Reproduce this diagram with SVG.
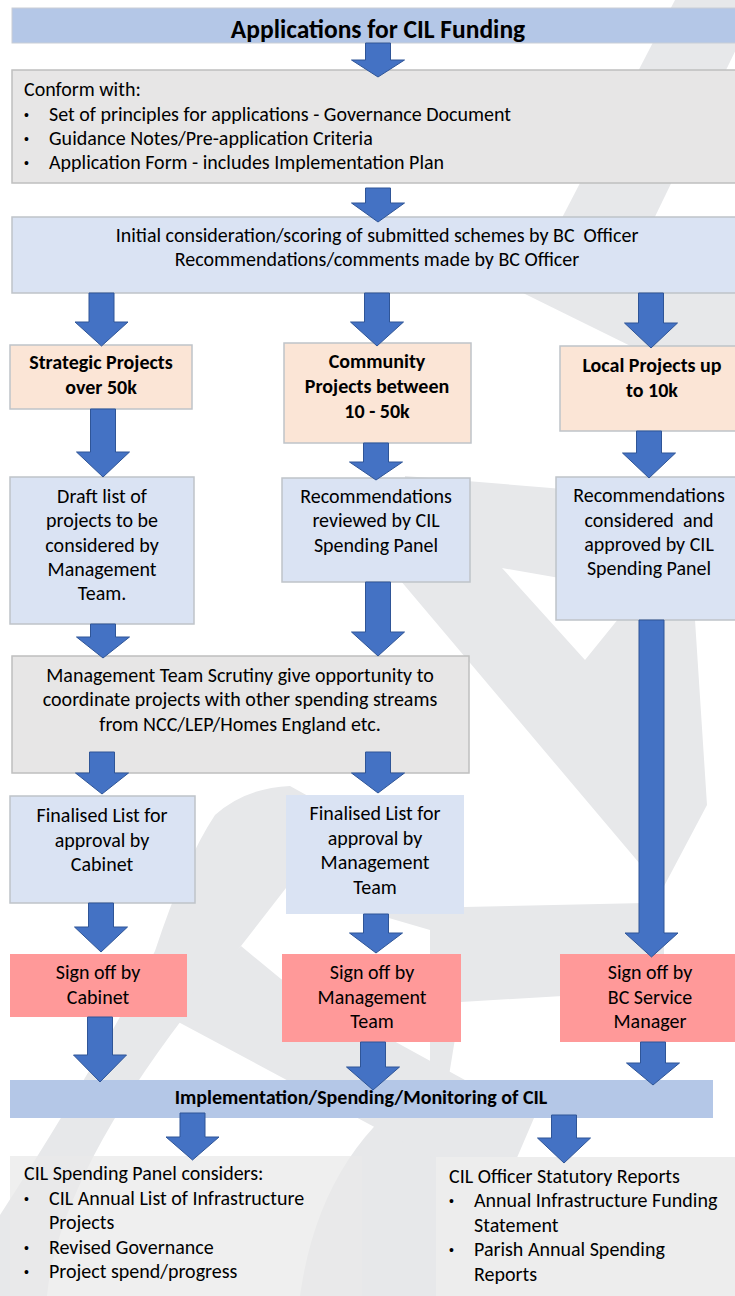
<svg xmlns="http://www.w3.org/2000/svg" width="735" height="1296" viewBox="0 0 735 1296">
<style>
.wm{fill:#e7e8ea}
.t{font-family:Carlito,Lato,'Liberation Sans',sans-serif;font-size:20px;fill:#000}
.c{text-anchor:middle}
.b{font-weight:bold}
.bu{font-family:'Liberation Sans',sans-serif;font-size:14px;fill:#000}
.blue{fill:#dae3f3;stroke:#bfc3c9;stroke-width:1.5}
.gray{fill:#e7e6e6;stroke:#bfbfbf;stroke-width:1.5}
.peach{fill:#fbe5d6;stroke:#bfc3c9;stroke-width:1.5}
.pink{fill:#ff9999}
.bar{fill:#b4c7e7}
.light{fill:#e9e9e9;fill-opacity:0.75}
.arr{fill:#4472c4;stroke:#2f5597;stroke-width:1}
</style>
<rect width="735" height="1296" fill="#ffffff"/>
<g id="watermark">
<path class="wm" d="M675,0 L760,0 L618,293 L523,293 Z"/>
<path class="wm" d="M523,293 L600,240 L740,240 L740,400 Z"/>
<path class="wm" fill-rule="evenodd" d="M405,476 L600,492 L700,510 L695,620 L707,805 L662,890 L400,580 Z M502,568 L640,592 L585,660 Z"/>
<path class="wm" fill-rule="evenodd" d="M-40,1296 L0,1215 Q100,1060 155,951 Q185,860 215,815 Q245,788 290,786 L460,880 L464,907 L645,903 L664,890 L664,990 L461,1002 L445,1100 Q440,1200 445,1296 Z M241,946 L286,888 L430,930 L430,1080 Q320,1150 300,1296 L47,1296 Q60,1160 241,946 Z"/>
<path class="wm" d="M241,946 L281,979 L534,1118 L516,1160 L436,1160 L169,1017 Z"/>
</g>
<g id="title"><rect x="12" y="8" width="730" height="35" class="bar" stroke="#c9ced6" stroke-width="1"/><text x="378" y="38" class="t c b" style="font-size:25.5px">Applications for CIL Funding</text></g>
<g id="conform"><rect x="12" y="70" width="730" height="113" class="gray"/>
<text x="24" y="96" class="t">Conform with:</text>
<text x="24" y="120" class="bu">•</text><text x="49" y="121" class="t">Set of principles for applications - Governance Document</text>
<text x="24" y="144" class="bu">•</text><text x="49" y="145" class="t">Guidance Notes/Pre-application Criteria</text>
<text x="24" y="168" class="bu">•</text><text x="49" y="169" class="t">Application Form - includes Implementation Plan</text></g>
<g id="initial"><rect x="12" y="217" width="730" height="76" class="blue"/>
<text x="377" y="242" class="t c" xml:space="preserve">Initial consideration/scoring of submitted schemes by BC  Officer</text>
<text x="377" y="266" class="t c">Recommendations/comments made by BC Officer</text></g>
<g id="strategic"><rect x="10" y="345" width="182" height="64" class="peach"/>
<text x="101" y="369" class="t c b">Strategic Projects</text><text x="101" y="394" class="t c b">over 50k</text></g>
<g id="community"><rect x="284" y="343" width="187" height="100" class="peach"/>
<text x="377" y="368" class="t c b">Community</text><text x="377" y="393" class="t c b">Projects between</text><text x="377" y="418" class="t c b">10 - 50k</text></g>
<g id="local"><rect x="560" y="346" width="185" height="85" class="peach"/>
<text x="652" y="372" class="t c b">Local Projects up</text><text x="652" y="397" class="t c b">to 10k</text></g>
<g id="draft"><rect x="10" y="477" width="184" height="147" class="blue"/>
<text x="102" y="503" class="t c">Draft list of</text><text x="102" y="527" class="t c">projects to be</text><text x="102" y="552" class="t c">considered by</text><text x="102" y="576" class="t c">Management</text><text x="102" y="600" class="t c">Team.</text></g>
<g id="reviewed"><rect x="282" y="478" width="188" height="104" class="blue"/>
<text x="376" y="503" class="t c">Recommendations</text><text x="376" y="527" class="t c">reviewed by CIL</text><text x="376" y="552" class="t c">Spending Panel</text></g>
<g id="approved"><rect x="556" y="477" width="189" height="143" class="blue"/>
<text x="649" y="502" class="t c">Recommendations</text><text x="649" y="527" class="t c" xml:space="preserve">considered  and</text><text x="649" y="551" class="t c">approved by CIL</text><text x="649" y="575" class="t c">Spending Panel</text></g>
<g id="scrutiny"><rect x="12" y="656" width="457" height="117" class="gray"/>
<text x="240" y="682" class="t c">Management Team Scrutiny give opportunity to</text><text x="240" y="706" class="t c">coordinate projects with other spending streams</text><text x="240" y="731" class="t c">from NCC/LEP/Homes England etc.</text></g>
<g id="fincab"><rect x="10" y="796" width="185" height="107" class="blue"/>
<text x="102" y="822" class="t c">Finalised List for</text><text x="102" y="847" class="t c">approval by</text><text x="102" y="871" class="t c">Cabinet</text></g>
<g id="finmgmt"><rect x="286" y="795" width="178" height="119" fill="#dae3f3"/>
<text x="375" y="820" class="t c">Finalised List for</text><text x="375" y="845" class="t c">approval by</text><text x="375" y="869" class="t c">Management</text><text x="375" y="894" class="t c">Team</text></g>
<g id="signcab"><rect x="10" y="954" width="177" height="63" class="pink"/>
<text x="98" y="979" class="t c">Sign off by</text><text x="98" y="1004" class="t c">Cabinet</text></g>
<g id="signmgmt"><rect x="282" y="954" width="179" height="88" class="pink"/>
<text x="372" y="979" class="t c">Sign off by</text><text x="372" y="1004" class="t c">Management</text><text x="372" y="1028" class="t c">Team</text></g>
<g id="signbc"><rect x="560" y="954" width="185" height="88" class="pink"/>
<text x="650" y="979" class="t c">Sign off by</text><text x="650" y="1004" class="t c">BC Service</text><text x="650" y="1028" class="t c">Manager</text></g>
<g id="implementation"><rect x="10" y="1080" width="703" height="38" class="bar"/>
<text x="361" y="1104" class="t c b">Implementation/Spending/Monitoring of CIL</text></g>
<g id="panel"><rect x="10" y="1156" width="352" height="145" class="light"/>
<text x="24" y="1180" class="t">CIL Spending Panel considers:</text>
<text x="24" y="1204" class="bu">•</text><text x="49" y="1205" class="t">CIL Annual List of Infrastructure</text>
<text x="49" y="1229" class="t">Projects</text>
<text x="24" y="1253" class="bu">•</text><text x="49" y="1254" class="t">Revised Governance</text>
<text x="24" y="1277" class="bu">•</text><text x="49" y="1278" class="t">Project spend/progress</text></g>
<g id="officer"><rect x="436" y="1157" width="310" height="145" fill="#ededed"/>
<text x="449" y="1183" class="t">CIL Officer Statutory Reports</text>
<text x="449" y="1206" class="bu">•</text><text x="474" y="1207" class="t">Annual Infrastructure Funding</text>
<text x="474" y="1232" class="t">Statement</text>
<text x="449" y="1255" class="bu">•</text><text x="474" y="1256" class="t">Parish Annual Spending</text>
<text x="474" y="1281" class="t">Reports</text></g>
<g id="connectors">
<polygon class="arr" points="365.5,43 390.5,43 390.5,60 404.5,60 378,77 351.5,60 365.5,60"/>
<polygon class="arr" points="365.5,188 390.5,188 390.5,203 404.5,203 378,222 351.5,203 365.5,203"/>
<polygon class="arr" points="89,293 114,293 114,322 128,322 101.5,346 75,322 89,322"/>
<polygon class="arr" points="364.5,293 389.5,293 389.5,322 403.5,322 377,346 350.5,322 364.5,322"/>
<polygon class="arr" points="638.5,293 663.5,293 663.5,323 677.5,323 651,348 624.5,323 638.5,323"/>
<polygon class="arr" points="90.5,409 115.5,409 115.5,452 129.5,452 103,477 76.5,452 90.5,452"/>
<polygon class="arr" points="363.5,443 388.5,443 388.5,462 402.5,462 376,480 349.5,462 363.5,462"/>
<polygon class="arr" points="636.5,431 661.5,431 661.5,453 675.5,453 649,478 622.5,453 636.5,453"/>
<polygon class="arr" points="90.5,624 115.5,624 115.5,637 129.5,637 103,658 76.5,637 90.5,637"/>
<polygon class="arr" points="365.5,582 390.5,582 390.5,632 404.5,632 378,656 351.5,632 365.5,632"/>
<polygon class="arr" points="639,620 664,620 664,933 678,933 651.5,957 625,933 639,933"/>
<polygon class="arr" points="89.5,752 114.5,752 114.5,773 128.5,773 102,794 75.5,773 89.5,773"/>
<polygon class="arr" points="365.5,752 390.5,752 390.5,773 404.5,773 378,793 351.5,773 365.5,773"/>
<polygon class="arr" points="88.5,903 113.5,903 113.5,927 127.5,927 101,952 74.5,927 88.5,927"/>
<polygon class="arr" points="363.5,914 388.5,914 388.5,933 402.5,933 376,953 349.5,933 363.5,933"/>
<polygon class="arr" points="87.5,1017 112.5,1017 112.5,1055 126.5,1055 100,1082 73.5,1055 87.5,1055"/>
<polygon class="arr" points="360.5,1042 385.5,1042 385.5,1067 399.5,1067 373,1090 346.5,1067 360.5,1067"/>
<polygon class="arr" points="640.5,1042 665.5,1042 665.5,1063 679.5,1063 653,1085 626.5,1063 640.5,1063"/>
<polygon class="arr" points="180,1113 205,1113 205,1137 219,1137 192.5,1160 166,1137 180,1137"/>
<polygon class="arr" points="551.5,1115 576.5,1115 576.5,1138 590.5,1138 564,1163 537.5,1138 551.5,1138"/>
</g>
</svg>
